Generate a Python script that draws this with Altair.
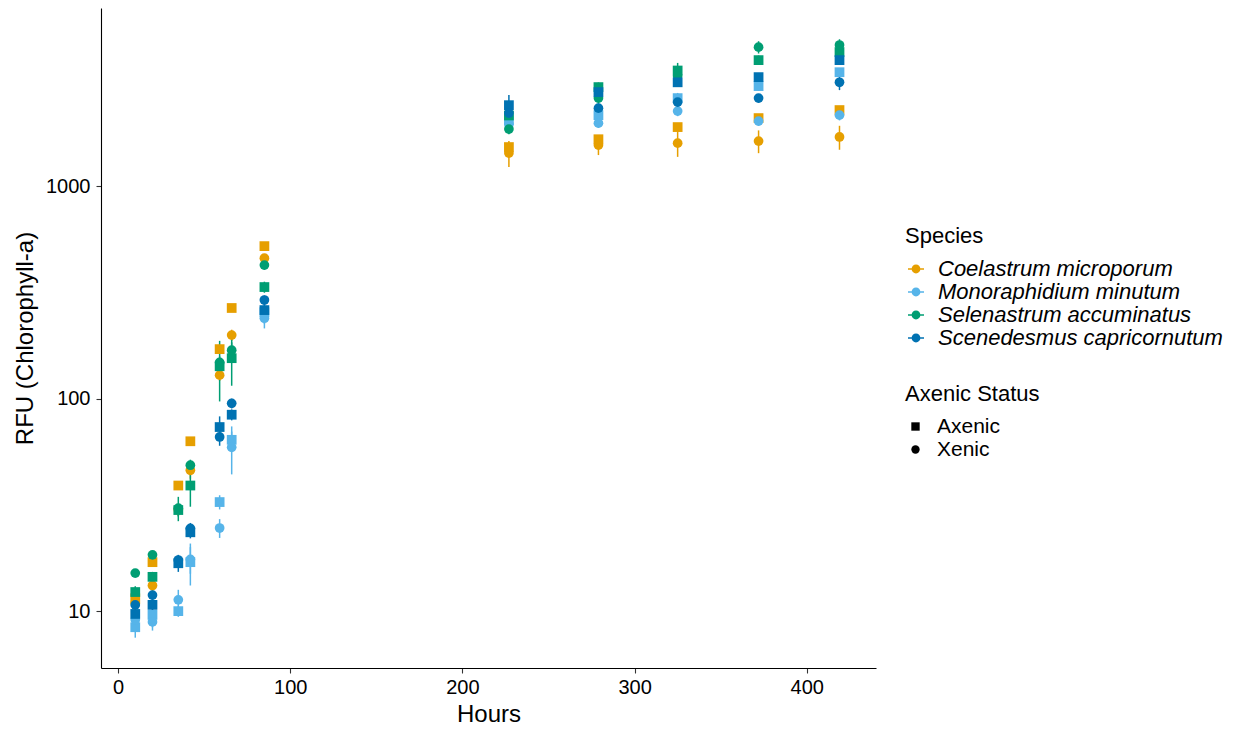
import altair as alt
import pandas as pd

hours = [10, 20, 35, 42, 59, 66, 85, 227, 279, 325, 372, 419]
species = ["Coelastrum microporum", "Monoraphidium minutum",
           "Selenastrum accuminatus", "Scenedesmus capricornutum"]
colors = ["#E69F00", "#56B4E9", "#009E73", "#0072B2"]
status = ["Axenic", "Xenic"]

coel_ax = [11.5, 17.0, 39, 63, 171, 267, 522, 1527, 1662, 1896, 2090, 2280]
coel_ax_sd = [0.5, 0.8, 1.5, 2, 6, 10, 20, 60, 70, 80, 90, 90]
coel_xe = [10.9, 13.2, 30, 46, 129, 199, 458, 1430, 1560, 1593, 1629, 1703]
coel_xe_sd = [0.6, 0.8, 2, 4, 8, 12, 20, 200, 160, 220, 200, 220]

mono_ax = [8.4, 9.6, 10.0, 17.0, 32.6, 64, 255, 2047, 2158, 2595, 2956, 3436]
mono_ax_sd = [0.9, 1.2, 0.6, 3.8, 2.5, 6, 30, 150, 130, 150, 150, 150]
mono_xe = [9.1, 8.9, 11.3, 17.5, 24.6, 59, 239, 1950, 1978, 2254, 2023, 2158]
mono_xe_sd = [1.0, 0.8, 1.3, 2.5, 2.5, 15, 25, 120, 100, 120, 100, 120]

sele_ax = [12.3, 14.5, 29.9, 39, 142, 155, 335, 2150, 2924, 3500, 3917, 4275]
sele_ax_sd = [0.8, 0.8, 2, 8, 45, 40, 20, 100, 150, 300, 200, 250]
sele_xe = [15.1, 18.4, 30.5, 48.6, 148, 169, 425, 1855, 2595, 3300, 4508, 4611]
sele_xe_sd = [0.6, 0.7, 4, 3, 10, 15, 20, 100, 150, 200, 300, 300]

scen_ax = [9.7, 10.7, 16.8, 23.5, 73.5, 84, 261, 2404, 2770, 3080, 3258, 3917]
scen_ax_sd = [0.6, 0.8, 1.5, 1.5, 9, 5, 15, 280, 150, 150, 150, 200]
scen_xe = [10.7, 11.9, 17.4, 24.5, 66, 95, 291, 2206, 2328, 2485, 2595, 3080]
scen_xe_sd = [0.5, 0.6, 1, 1.5, 6, 5, 15, 120, 120, 150, 120, 250]

series = [
    (species[0], "Axenic", coel_ax, coel_ax_sd),
    (species[0], "Xenic", coel_xe, coel_xe_sd),
    (species[1], "Axenic", mono_ax, mono_ax_sd),
    (species[1], "Xenic", mono_xe, mono_xe_sd),
    (species[2], "Axenic", sele_ax, sele_ax_sd),
    (species[2], "Xenic", sele_xe, sele_xe_sd),
    (species[3], "Axenic", scen_ax, scen_ax_sd),
    (species[3], "Xenic", scen_xe, scen_xe_sd),
]

rows = []
for sp, st, means, sds in series:
    for h, m, s in zip(hours, means, sds):
        rows.append({"Hours": h, "RFU": m, "lo": m - s, "hi": m + s,
                     "Species": sp, "Status": st})
df = pd.DataFrame(rows)

FONT = "Liberation Sans"
KEY = ("M-1,-0.1H1V0.1H-1Z "
       "M-0.55,0A0.55,0.55 0 1,1 0.55,0A0.55,0.55 0 1,1 -0.55,0Z")

x_enc = alt.X("Hours:Q",
              scale=alt.Scale(domain=[-9.9, 440.2], nice=False, zero=False),
              axis=alt.Axis(values=[0, 100, 200, 300, 400], title="Hours"))
y_scale = alt.Scale(type="log", domain=[5.4, 6890], nice=False)
y_axis = alt.Axis(values=[10, 100, 1000], format="d", title="RFU (Chlorophyll-a)")

color_legend = alt.Legend(
    title="Species", orient="none", legendX=804, legendY=218,
    labelFontStyle="italic", labelFontSize=22, titleFontSize=22,
    titleFontWeight="normal", symbolType=KEY, symbolSize=256,
    symbolStrokeWidth=0, labelOffset=11, titlePadding=10, rowPadding=1,
    padding=0, labelColor="black", titleColor="black", labelLimit=400)
color_enc = alt.Color("Species:N",
                      scale=alt.Scale(domain=species, range=colors),
                      sort=species, legend=color_legend)

base = alt.Chart(df)

rules = base.mark_rule(strokeWidth=1.5).encode(
    x=x_enc,
    y=alt.Y("lo:Q", scale=y_scale, axis=y_axis),
    y2="hi:Q",
    color=color_enc,
)

points = base.mark_point(filled=True, size=95, opacity=1).encode(
    x=x_enc,
    y=alt.Y("RFU:Q", scale=y_scale, axis=y_axis),
    color=color_enc,
    shape=alt.Shape("Status:N",
                    scale=alt.Scale(domain=status, range=["square", "circle"]),
                    legend=alt.Legend(
                        title="Axenic Status", orient="none", legendX=804,
                        legendY=376, labelFontSize=21, titleFontSize=22,
                        titleFontWeight="normal", symbolSize=70,
                        symbolFillColor="black", symbolStrokeWidth=0,
                        labelOffset=11, titlePadding=10, rowPadding=1,
                        padding=0, labelColor="black", titleColor="black")),
)

chart = alt.layer(rules, points).properties(
    width=775, height=660,
    autosize=alt.AutoSizeParams(type="none"),
    padding={"left": 93, "top": 0, "right": 355, "bottom": 58},
).configure(font=FONT).configure_view(stroke=None).configure_axis(
    grid=False, domainColor="black", domainWidth=1.1, tickColor="#333333",
    tickWidth=1.1, tickSize=5, labelFontSize=20, labelColor="black",
    titleFontSize=24, titleFontWeight="normal", titleColor="black",
    labelPadding=6,
).configure_axisY(titlePadding=8).configure_axisX(titlePadding=5, labelPadding=4)

chart.save("out.html", embed_options={"renderer": "svg", "actions": False})
